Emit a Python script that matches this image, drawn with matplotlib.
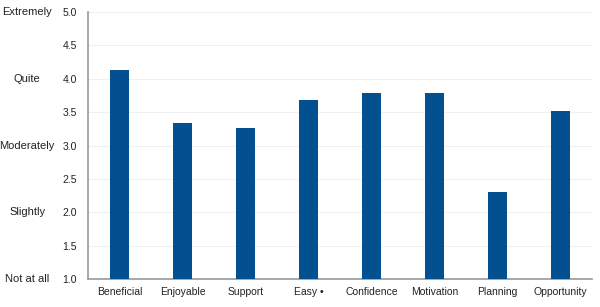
import matplotlib
matplotlib.use('Agg')
import matplotlib.pyplot as plt

plt.rcParams['font.family'] = ['Liberation Sans', 'DejaVu Sans']

# Survey ratings per item
categories = ['Beneficial', 'Enjoyable', 'Support', 'Easy \u2022', 'Confidence',
              'Motivation', 'Planning', 'Opportunity']
scores = [4.13, 3.34, 3.26, 3.68, 3.79, 3.79, 2.31, 3.52]

tick_values = [1.0, 1.5, 2.0, 2.5, 3.0, 3.5, 4.0, 4.5, 5.0]
scale_labels = ['Not at all', 'Slightly', 'Moderately', 'Quite', 'Extremely']
scale_values = [1, 2, 3, 4, 5]

fig = plt.figure(figsize=(6, 3.07), dpi=100)
ax = fig.add_axes([0.147, 0.091, 0.84, 0.87])

x = list(range(len(categories)))
ax.bar(x, scores, width=0.31, color='#02508f', zorder=3)

ax.set_xlim(-0.5, len(categories) - 0.5)
ax.set_ylim(1, 5)
ax.set_yticks(tick_values)
ax.set_yticklabels([f'{v:.1f}' for v in tick_values], fontsize=7.5, color='#222222')
ax.set_xticks(x)
ax.set_xticklabels(categories, fontsize=7.5, color='#222222')
ax.tick_params(axis='y', length=0, pad=8)
ax.tick_params(axis='x', length=0, pad=6)

ax.grid(axis='y', color='#f0f0f0', linewidth=0.8, zorder=0)
for side in ['top', 'right']:
    ax.spines[side].set_visible(False)
for side in ['left', 'bottom']:
    ax.spines[side].set_color('#999999')
    ax.spines[side].set_linewidth(1.2)

# descriptive scale labels on the far left
for lab, val in zip(scale_labels, scale_values):
    ax.text(-0.121, val, lab, transform=ax.get_yaxis_transform(), ha='center',
            va='center', fontsize=8, color='#222222')

fig.savefig('out.png', dpi=100)
